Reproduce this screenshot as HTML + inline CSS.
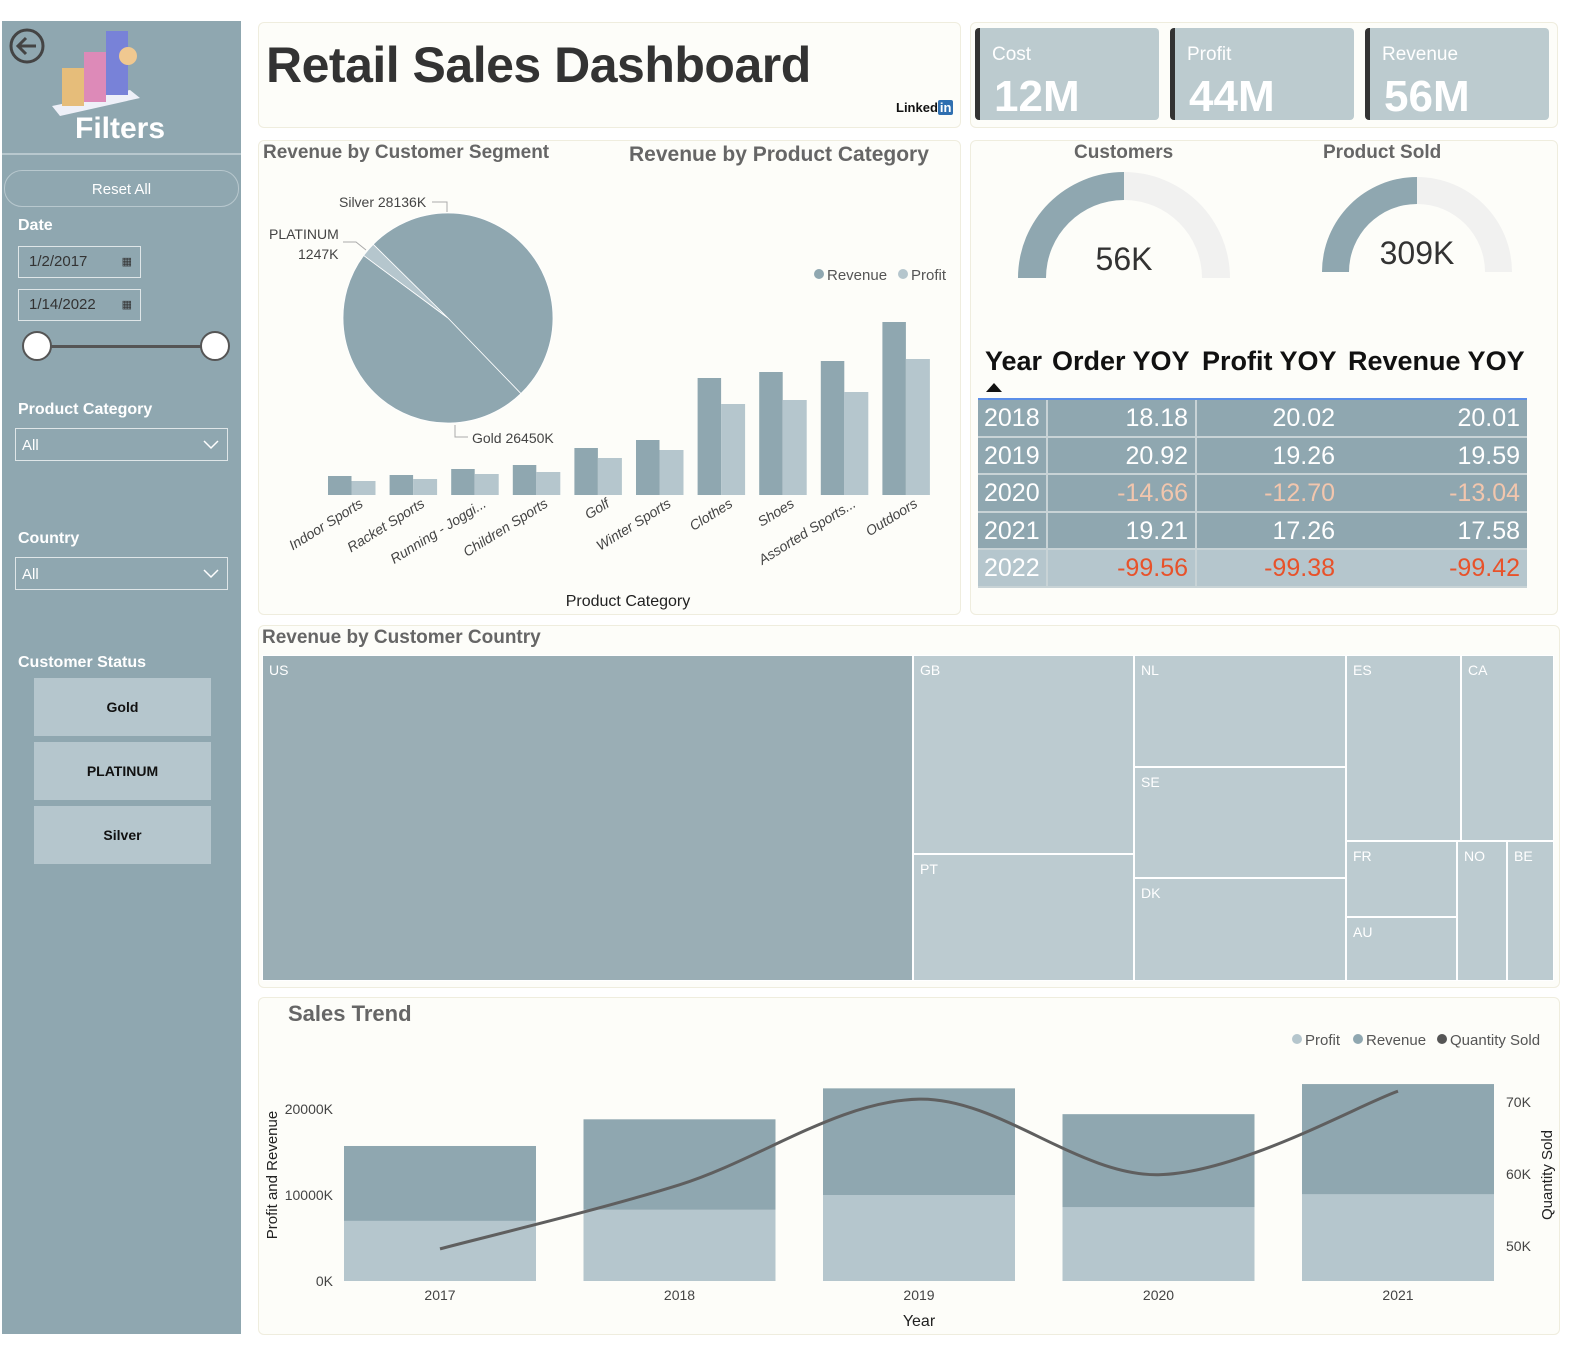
<!DOCTYPE html>
<html><head><meta charset="utf-8">
<style>
*{box-sizing:border-box;margin:0;padding:0}
body{width:1584px;height:1354px;background:#fff;font-family:"Liberation Sans",sans-serif;position:relative;overflow:hidden}
.a{position:absolute}
.card{position:absolute;background:#fdfdf9;border:1px solid #efedde;border-radius:6px}
.sb-l{position:absolute;color:#fff;font-weight:bold;font-size:16px;left:18px}
.box{position:absolute;border:1px solid #dfe6e8;color:#333;font-size:15px;padding-left:10px;line-height:30px}
.dd{position:absolute;left:15px;width:213px;height:33px;border:1px solid #dfe6e8;color:#fff;font-size:15px;padding-left:6px;line-height:33px}
.btn{position:absolute;left:34px;width:177px;height:58px;background:#b5c6cd;text-align:center;line-height:58px;font-weight:bold;font-size:14px;color:#111}
.kpi{position:absolute;top:28px;width:184px;height:92px;background:#bccbcf;border-left:5px solid #333;border-radius:4px;color:#fff}
.kpi .t{position:absolute;left:12px;top:16px;font-size:19px}
.kpi .v{position:absolute;left:14px;top:44px;font-size:44px;font-weight:bold}
.ct{position:absolute;font-weight:bold;color:#666;font-size:19px}
.tm{position:absolute;background:#bccbd0;border:1px solid #fff;color:#fff;font-size:14px;padding:6px}
.th{position:absolute;top:346px;font-weight:bold;font-size:27px;color:#111}
</style></head><body>
<div class="a" style="left:2px;top:21px;width:239px;height:1313px;background:#8fa7b0"></div>
<svg class="a" style="left:8px;top:27px" width="38" height="38"><circle cx="19" cy="19" r="16" fill="none" stroke="#444" stroke-width="3"/><path d="M28 19H11M18 11l-8 8 8 8" fill="none" stroke="#444" stroke-width="3"/></svg>
<svg class="a" style="left:50px;top:28px" width="95" height="90"><polygon points="2,78 80,62 90,70 10,88" fill="#eef0f8"/><rect x="12" y="40" width="22" height="38" fill="#e6bd7a"/><rect x="34" y="24" width="22" height="50" fill="#dd8ab8"/><rect x="56" y="3" width="22" height="64" fill="#7882d8"/><circle cx="78" cy="28" r="9" fill="#f0c890"/></svg>
<div class="a" style="left:75px;top:112px;color:#fff;font-size:30px;font-weight:bold">Filters</div>
<div class="a" style="left:2px;top:153px;width:239px;height:2px;background:#b8c8ce"></div>
<div class="a" style="left:4px;top:170px;width:235px;height:37px;border:1px solid #b8c8ce;border-radius:18px;color:#fff;text-align:center;line-height:37px;font-size:15px">Reset All</div>
<div class="sb-l" style="top:217px">Date</div>
<div class="box" style="left:18px;top:246px;width:123px;height:32px">1/2/2017<span style="position:absolute;right:8px;font-size:11px">▦</span></div>
<div class="box" style="left:18px;top:289px;width:123px;height:32px">1/14/2022<span style="position:absolute;right:8px;font-size:11px">▦</span></div>
<div class="a" style="left:37px;top:345px;width:178px;height:3px;background:#555"></div>
<div class="a" style="left:22px;top:331px;width:30px;height:30px;border-radius:50%;background:#fff;border:2px solid #555"></div>
<div class="a" style="left:200px;top:331px;width:30px;height:30px;border-radius:50%;background:#fff;border:2px solid #555"></div>
<div class="sb-l" style="top:401px">Product Category</div>
<div class="dd" style="top:428px">All<svg style="position:absolute;right:8px;top:11px" width="16" height="10"><path d="M1 1l7 7 7-7" fill="none" stroke="#fff" stroke-width="1.5"/></svg></div>
<div class="sb-l" style="top:530px">Country</div>
<div class="dd" style="top:557px">All<svg style="position:absolute;right:8px;top:11px" width="16" height="10"><path d="M1 1l7 7 7-7" fill="none" stroke="#fff" stroke-width="1.5"/></svg></div>
<div class="sb-l" style="top:654px">Customer Status</div>
<div class="btn" style="top:678px">Gold</div>
<div class="btn" style="top:742px">PLATINUM</div>
<div class="btn" style="top:806px">Silver</div>

<div class="card" style="left:258px;top:22px;width:703px;height:106px"></div>
<div class="a" style="left:266px;top:36px;font-size:50px;font-weight:bold;color:#333;letter-spacing:-0.5px">Retail Sales Dashboard</div>
<div class="a" style="left:896px;top:100px;font-size:13px;font-weight:bold;color:#111">Linked<span style="background:#2f6fb0;color:#fff;padding:0 2px;border-radius:2px">in</span></div>

<div class="card" style="left:970px;top:22px;width:588px;height:106px"></div>
<div class="kpi" style="left:975px"><div class="t">Cost</div><div class="v">12M</div></div>
<div class="kpi" style="left:1170px"><div class="t">Profit</div><div class="v">44M</div></div>
<div class="kpi" style="left:1365px"><div class="t">Revenue</div><div class="v">56M</div></div>

<div class="card" style="left:258px;top:140px;width:703px;height:475px"></div>
<div class="ct" style="left:263px;top:142px">Revenue by Customer Segment</div>
<div class="ct" style="left:629px;top:143px;font-size:21px">Revenue by Product Category</div>
<svg class="a" id="mid" style="left:0;top:0" width="961" height="615"></svg>

<div class="card" style="left:970px;top:140px;width:588px;height:475px"></div>
<div class="ct" style="left:1074px;top:142px">Customers</div>
<div class="ct" style="left:1323px;top:142px">Product Sold</div>
<svg class="a" id="gauges" style="left:0;top:0" width="1584" height="320"></svg>
<div class="th" style="left:985px">Year</div>
<div class="a" style="left:986px;top:383px;width:0;height:0;border-left:8px solid transparent;border-right:8px solid transparent;border-bottom:9px solid #111"></div>
<div class="th" style="left:1052px">Order YOY</div>
<div class="th" style="left:1202px">Profit YOY</div>
<div class="th" style="left:1348px">Revenue YOY</div>
<div class="a" id="tbl" style="left:978px;top:398px;width:549px;border-top:2px solid #5b8ee8"></div>

<div class="card" style="left:258px;top:625px;width:1302px;height:363px"></div>
<div class="ct" style="left:262px;top:627px">Revenue by Customer Country</div>
<div class="tm" style="left:262px;top:655px;width:651px;height:326px;background:#9aaeb5">US</div>
<div class="tm" style="left:913px;top:655px;width:221px;height:199px">GB</div>
<div class="tm" style="left:913px;top:854px;width:221px;height:127px">PT</div>
<div class="tm" style="left:1134px;top:655px;width:212px;height:112px">NL</div>
<div class="tm" style="left:1134px;top:767px;width:212px;height:111px">SE</div>
<div class="tm" style="left:1134px;top:878px;width:212px;height:103px">DK</div>
<div class="tm" style="left:1346px;top:655px;width:115px;height:186px">ES</div>
<div class="tm" style="left:1461px;top:655px;width:93px;height:186px">CA</div>
<div class="tm" style="left:1346px;top:841px;width:111px;height:76px">FR</div>
<div class="tm" style="left:1346px;top:917px;width:111px;height:64px">AU</div>
<div class="tm" style="left:1457px;top:841px;width:50px;height:140px">NO</div>
<div class="tm" style="left:1507px;top:841px;width:47px;height:140px">BE</div>

<div class="card" style="left:258px;top:997px;width:1302px;height:338px"></div>
<div class="ct" style="left:288px;top:1001px;font-size:22px">Sales Trend</div>
<svg class="a" id="trend" style="left:0;top:0" width="1584" height="1354"></svg>

<script>
const categories=["Indoor Sports","Racket Sports","Running - Joggi...","Children Sports","Golf","Winter Sports","Clothes","Shoes","Assorted Sports...","Outdoors"];
const catRevenue=[19,20,26,30,47,55,117,123,134,173];
const catProfit=[14,16,21,23,37,45,91,95,103,136];
const segments=["Gold","PLATINUM","Silver"];
const segValues=[26450,1247,28136];
const years=["2017","2018","2019","2020","2021"];
const trendRevenue=[15700,18800,22400,19400,22900];
const trendProfit=[7000,8300,10000,8600,10100];
const trendQty=[49.6,58.5,70.4,59.9,71.5];
const leftTicks=[0,10000,20000];
const rightTicks=[50,60,70];
const gaugeLabels=["56K","309K"];
const gaugeFrac=[0.5,0.5];
const tblYears=["2018","2019","2020","2021","2022"];
const orderYoy=[18.18,20.92,-14.66,19.21,-99.56];
const profitYoy=[20.02,19.26,-12.70,17.26,-99.38];
const revenueYoy=[20.01,19.59,-13.04,17.58,-99.42];

const NS="http://www.w3.org/2000/svg";
function mk(parent,tag,attrs,text){const e=document.createElementNS(NS,tag);for(const k in attrs)e.setAttribute(k,attrs[k]);if(text!==undefined)e.textContent=text;parent.appendChild(e);return e;}
const DARK="#8fa7b0",LIGHT="#b5c6cd";

const mid=document.getElementById('mid');
const bx=i=>328+i*61.6, by=v=>495-v;
categories.forEach((c,i)=>{
  const r=mk(mid,'rect',{x:bx(i),y:by(catRevenue[i]),width:23.5,height:495-by(catRevenue[i]),fill:DARK});
  
  
  const p=mk(mid,'rect',{x:bx(i)+23.5,y:by(catProfit[i]),width:24,height:495-by(catProfit[i]),fill:LIGHT});
  
  
  const cx=bx(i)+36;
  const t=mk(mid,'text',{x:cx,y:506,'text-anchor':'end',transform:`rotate(-32 ${cx} 506)`,'font-size':14,fill:'#444','font-style':'italic'},c);
  
  
});
const xt=mk(mid,'text',{x:628,y:606,'text-anchor':'middle','font-size':16,fill:'#222'},'Product Category');


mk(mid,'circle',{cx:819,cy:274,r:5,fill:DARK});
mk(mid,'text',{x:827,y:280,'font-size':15,fill:'#555'},'Revenue');
mk(mid,'circle',{cx:903,cy:274,r:5,fill:LIGHT});
mk(mid,'text',{x:911,y:280,'font-size':15,fill:'#555'},'Profit');
const total=segValues.reduce((a,b)=>a+b,0);
let ang=46*Math.PI/180;const cx0=448,cy0=318,R=105;
segValues.forEach((v,i)=>{
  const a2=ang+v/total*2*Math.PI;
  const large=(a2-ang)>Math.PI?1:0;
  const d=`M${cx0},${cy0}L${cx0+R*Math.cos(ang)},${cy0+R*Math.sin(ang)}A${R},${R} 0 ${large} 1 ${cx0+R*Math.cos(a2)},${cy0+R*Math.sin(a2)}Z`;
  const s=mk(mid,'path',{d,fill:segments[i]==="PLATINUM"?LIGHT:DARK,stroke:'#fff','stroke-width':0.8});
  
  
  ang=a2;
});
mk(mid,'text',{x:339,y:207,'font-size':14,fill:'#444'},'Silver 28136K');
mk(mid,'path',{d:'M432,202H447V212',fill:'none',stroke:'#aaa'});
mk(mid,'text',{x:269,y:239,'font-size':14,fill:'#444'},'PLATINUM');
mk(mid,'text',{x:298,y:259,'font-size':14,fill:'#444'},'1247K');
mk(mid,'path',{d:'M343,242H356L366,250',fill:'none',stroke:'#aaa'});
mk(mid,'text',{x:472,y:443,'font-size':14,fill:'#444'},'Gold 26450K');
mk(mid,'path',{d:'M455,425V437H468',fill:'none',stroke:'#aaa'});

const g=document.getElementById('gauges');
[[1124,278,106,78],[1417,272,95,68]].forEach(([cx,cy,ro,ri],i)=>{
  const arc=(a1,a2,col)=>{const p=(r,a)=>`${cx+r*Math.cos(a)},${cy+r*Math.sin(a)}`;
    return mk(g,'path',{d:`M${p(ro,a1)}A${ro},${ro} 0 0 1 ${p(ro,a2)}L${p(ri,a2)}A${ri},${ri} 0 0 0 ${p(ri,a1)}Z`,fill:col});};
  const m=Math.PI+gaugeFrac[i]*Math.PI;
  arc(Math.PI,2*Math.PI,'#f1f1f0');
  const f=arc(Math.PI,m,DARK);
  
  
  const t=mk(g,'text',{x:cx,y:cy-8,'text-anchor':'middle','font-size':32,fill:'#333'},gaugeLabels[i]);
  
  
});

const tbl=document.getElementById('tbl');
tblYears.forEach((y,i)=>{
  const row=document.createElement('div');
  
  
  row.style.cssText=`position:relative;height:37.6px;background:${i===4?LIGHT:DARK};border-bottom:2px solid #c8d3d6;color:#fff;font-size:25px;line-height:37px`;
  let html=`<span style="position:absolute;left:6px">${y}</span>`;
  [orderYoy[i],profitYoy[i],revenueYoy[i]].forEach((v,j)=>{
    const col=v<0?(i===4?'#e8522a':'#f2c6ad'):'#fff';
    const right=[1188,1335,1520][j];
    html+=`<span style="position:absolute;right:${1527-right}px;color:${col}">${v.toFixed(2)}</span>`;
  });
  html+=`<span style="position:absolute;left:68px;top:0;width:2px;height:100%;background:#c8d3d6"></span><span style="position:absolute;left:217px;top:0;width:2px;height:100%;background:#c8d3d6"></span>`;
  row.innerHTML=html;
  tbl.appendChild(row);
});

const tr=document.getElementById('trend');
const xc=i=>440+i*239.5;
const yl=v=>1281-v*0.0086;
const yr=v=>1246-(v-50)*7.2;
years.forEach((y,i)=>{
  const r=mk(tr,'rect',{x:xc(i)-96,y:yl(trendRevenue[i]),width:192,height:1281-yl(trendRevenue[i]),fill:DARK});
  
  
  const p=mk(tr,'rect',{x:xc(i)-96,y:yl(trendProfit[i]),width:192,height:1281-yl(trendProfit[i]),fill:LIGHT});
  
  
  mk(tr,'text',{x:xc(i),y:1300,'text-anchor':'middle','font-size':14,fill:'#444'},y);
});
leftTicks.forEach(v=>mk(tr,'text',{x:333,y:yl(v)+5,'text-anchor':'end','font-size':14,fill:'#444'},v===0?'0K':v+'K'));
rightTicks.forEach(v=>mk(tr,'text',{x:1506,y:yr(v)+5,'font-size':14,fill:'#444'},v+'K'));
const pts=years.map((_,i)=>[xc(i),yr(trendQty[i])]);
let d=`M${pts[0][0]},${pts[0][1]}`;
for(let i=0;i<pts.length-1;i++){
  const p0=pts[Math.max(0,i-1)],p1=pts[i],p2=pts[i+1],p3=pts[Math.min(pts.length-1,i+2)];
  d+=`C${p1[0]+(p2[0]-p0[0])/6},${p1[1]+(p2[1]-p0[1])/6} ${p2[0]-(p3[0]-p1[0])/6},${p2[1]-(p3[1]-p1[1])/6} ${p2[0]},${p2[1]}`;
}
const ln=mk(tr,'path',{d,fill:'none',stroke:'#5f5f5f','stroke-width':3});


const yt=mk(tr,'text',{x:277,y:1175,'text-anchor':'middle','font-size':15,fill:'#222',transform:'rotate(-90 277 1175)'},'Profit and Revenue');


const yt2=mk(tr,'text',{x:1552,y:1175,'text-anchor':'middle','font-size':15,fill:'#222',transform:'rotate(-90 1552 1175)'},'Quantity Sold');


const xt2=mk(tr,'text',{x:919,y:1326,'text-anchor':'middle','font-size':16,fill:'#222'},'Year');


[[1297,LIGHT,'Profit'],[1358,DARK,'Revenue'],[1442,'#555','Quantity Sold']].forEach(([x,c,t])=>{
  mk(tr,'circle',{cx:x,cy:1039,r:5,fill:c});
  const lt=mk(tr,'text',{x:x+8,y:1045,'font-size':15,fill:'#555'},t);
  
  
});
</script>
</body></html>
